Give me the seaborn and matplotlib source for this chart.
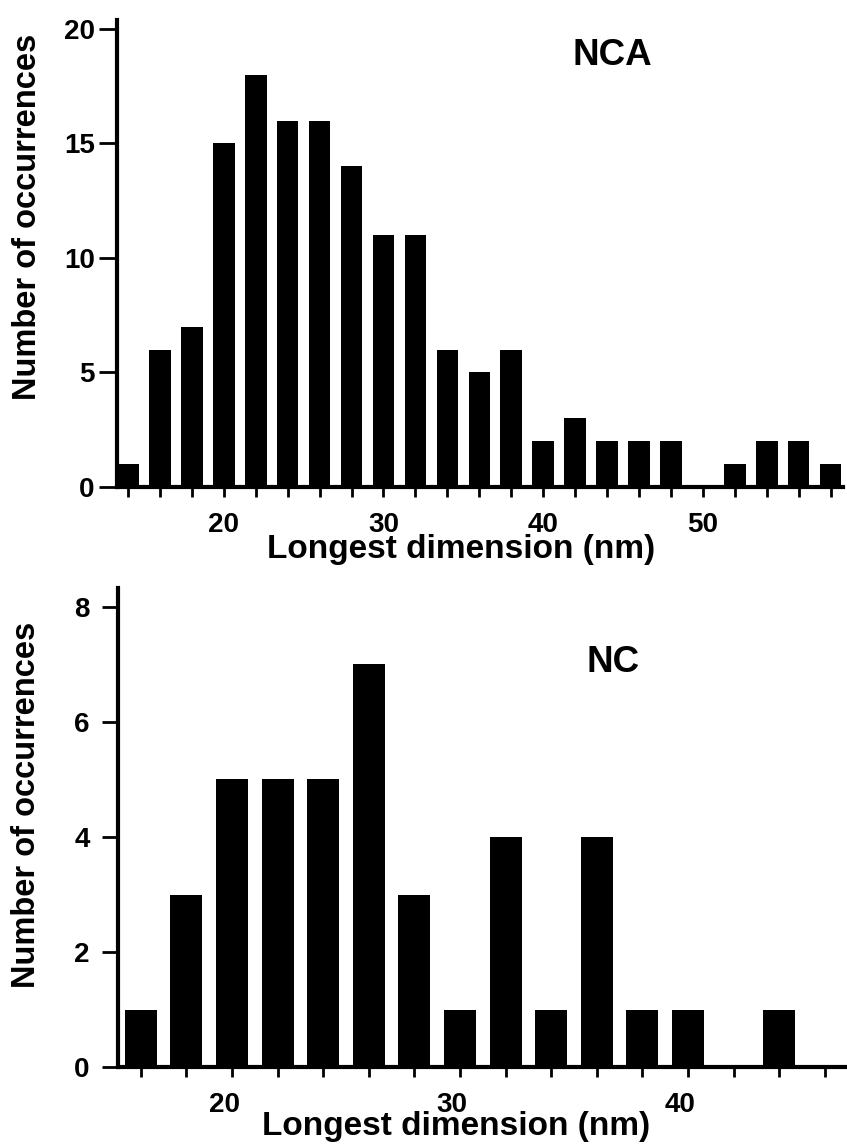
import matplotlib
matplotlib.use("Agg")
import matplotlib.pyplot as plt
import matplotlib.transforms as mtransforms
import pandas as pd
import seaborn as sns

# NCA panel: bin centre (nm) and number of particles
nca_size = [14, 16, 18, 20, 22, 24, 26, 28, 30, 32, 34, 36, 38, 40, 42, 44, 46, 48, 50, 52, 54, 56, 58]
nca_count = [1, 6, 7, 15, 18, 16, 16, 14, 11, 11, 6, 5, 6, 2, 3, 2, 2, 2, 0, 1, 2, 2, 1]

# NC panel
nc_size = [16, 18, 20, 22, 24, 26, 28, 30, 32, 34, 36, 38, 40, 42, 44, 46]
nc_count = [1, 3, 5, 5, 5, 7, 3, 1, 4, 1, 4, 1, 1, 0, 1, 0]

nca_xticks = list(range(14, 59, 2))
nc_xticks = list(range(16, 47, 2))
nca_yticks = [0, 5, 10, 15, 20]
nc_yticks = [0, 2, 4, 6, 8]

sns.set_theme(style="ticks")
plt.rcParams["font.family"] = ["Liberation Sans", "DejaVu Sans"]
plt.rcParams["font.weight"] = "bold"
plt.rcParams["axes.labelweight"] = "bold"
plt.rcParams["text.color"] = "black"
plt.rcParams["axes.labelcolor"] = "black"
plt.rcParams["xtick.color"] = "black"
plt.rcParams["ytick.color"] = "black"

fig = plt.figure(figsize=(8.47, 11.44), dpi=100)
ax_top = fig.add_axes([0.1381, 0.5743, 0.8571, 0.4082])
ax_bot = fig.add_axes([0.1393, 0.0673, 0.8607, 0.4187])

panels = [
    (ax_top, nca_size, nca_count, nca_xticks, nca_yticks, 0.675, (13.31, 58.77), (0, 20.39), "NCA",
     (0.683, 0.925), (0.474, -0.100), (-0.102, 0.578), 13, 3, 0),
    (ax_bot, nc_size, nc_count, nc_xticks, nc_yticks, 0.70, (15.0, 46.97), (0, 8.33), "NC",
     (0.679, 0.845), (0.464, -0.091), (-0.104, 0.547), 11.5, 9, -8),
]

for (ax, sizes, counts, xticks, yticks, width, xlim, ylim, tag,
     tag_pos, xlab_pos, ylab_pos, ylen, ypad, xshift) in panels:
    df = pd.DataFrame({"size": sizes, "count": counts})
    sns.barplot(data=df, x="size", y="count", native_scale=True, width=width,
                color="black", saturation=1, linewidth=0, errorbar=None, ax=ax)

    ax.set_xlim(*xlim)
    ax.set_ylim(*ylim)
    ax.set_xticks(xticks, [str(t) if t % 10 == 0 else "" for t in xticks])
    ax.set_yticks(yticks, [str(t) for t in yticks])

    sns.despine(ax=ax)
    for side in ["left", "bottom"]:
        ax.spines[side].set_linewidth(3)
        ax.spines[side].set_color("black")
    ax.tick_params(axis="both", colors="black", width=2, labelsize=20)
    ax.tick_params(axis="x", length=7, pad=11)
    ax.tick_params(axis="y", length=ylen, pad=ypad)

    # the lower panel's x labels sit a little left of their ticks
    if xshift:
        offset = mtransforms.ScaledTranslation(xshift / 100, 0, fig.dpi_scale_trans)
        for lab in ax.get_xticklabels():
            lab.set_transform(lab.get_transform() + offset)

    ax.set_xlabel("Longest dimension (nm)", fontsize=24, fontweight="bold", color="black")
    ax.set_ylabel("Number of occurrences", fontsize=23.5, fontweight="bold", color="black")
    ax.xaxis.set_label_coords(*xlab_pos)
    ax.yaxis.set_label_coords(*ylab_pos)

    ax.text(tag_pos[0], tag_pos[1], tag, transform=ax.transAxes, ha="center", va="center",
            fontsize=26.5, fontweight="bold", color="black")

fig.savefig("out.png", dpi=100, facecolor="white")
